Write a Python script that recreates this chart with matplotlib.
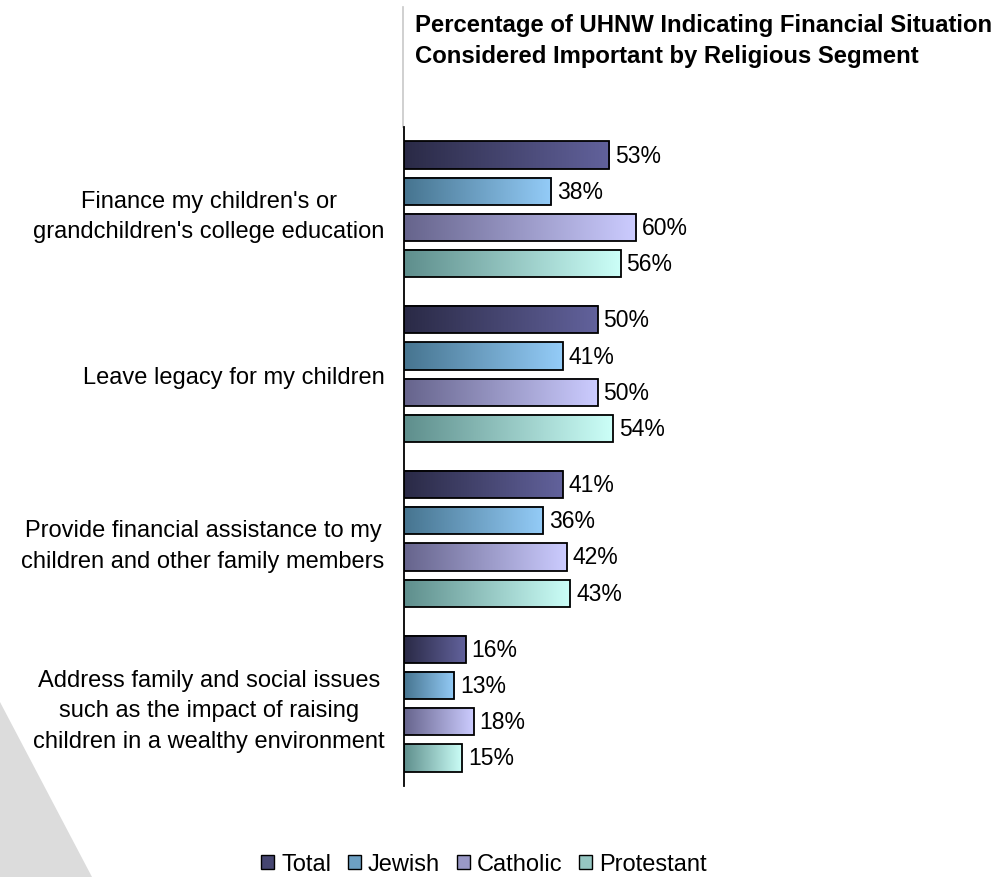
import numpy as np
import matplotlib
matplotlib.use("Agg")
import matplotlib.pyplot as plt
from matplotlib.patches import Polygon, Rectangle
from matplotlib.colors import LinearSegmentedColormap, to_rgb, to_hex

plt.rcParams['font.family'] = ['Liberation Sans', 'DejaVu Sans']

categories = [
    "Finance my children's or\ngrandchildren's college education",
    "Leave legacy for my children",
    "Provide financial assistance to my\nchildren and other family members",
    "Address family and social issues\nsuch as the impact of raising\nchildren in a wealthy environment",
]
series = ["Total", "Jewish", "Catholic", "Protestant"]
total = [53, 50, 41, 16]
jewish = [38, 41, 36, 13]
catholic = [60, 50, 42, 18]
protestant = [56, 54, 43, 15]
values = [total, jewish, catholic, protestant]

# left (dark) and right (light) ends of each bar gradient
grad = {
    "Total": ("#2a2a46", "#62629c"),
    "Jewish": ("#46748f", "#94ccf8"),
    "Catholic": ("#66648c", "#ccccff"),
    "Protestant": ("#5e8e8c", "#ccfff8"),
}

W, H = 1002, 878
fig = plt.figure(figsize=(W / 100, H / 100), dpi=100)

# background wedge in the lower-left corner
bg = fig.add_axes([0, 0, 1, 1])
bg.set_xlim(0, W)
bg.set_ylim(H, 0)
bg.axis("off")
wedge = Polygon([(0, 703), (92, 878), (0, 878)], closed=True,
                facecolor="#dcdcdc", edgecolor="none")
bg.add_patch(wedge)
bg.plot([403, 403], [8, 128], color="#c8c8c8", lw=1.2)

# main bar axes (pixel-based placement)
x0, x1 = 404, 1002
y_top, y_bot = 128, 787
ax = fig.add_axes([x0 / W, 1 - y_bot / H, (x1 - x0) / W, (y_bot - y_top) / H])
px_per_pct = 3.87
ax.patch.set_alpha(0)
for s in ["top", "right", "bottom"]:
    ax.spines[s].set_visible(False)
ax.spines["left"].set_linewidth(1.3)
ax.set_xticks([])
ax.set_yticks(range(len(categories)))
ax.set_yticklabels(categories, fontsize=17, linespacing=1.5)
ax.tick_params(axis="y", length=0, pad=14)
for lbl in ax.get_yticklabels():
    lbl.set_multialignment("center")

pitch = 0.22
bar_h = 0.164
offsets = (np.arange(4) - 1.5) * pitch
grad_img = np.linspace(0, 1, 256).reshape(1, -1)
for si, name in enumerate(series):
    cmap = LinearSegmentedColormap.from_list(name, grad[name])
    for ci, v in enumerate(values[si]):
        yc = ci + offsets[si]
        ax.imshow(grad_img, cmap=cmap, aspect="auto", interpolation="bilinear",
                  extent=(0, v, yc + bar_h / 2, yc - bar_h / 2), zorder=2)
        ax.add_patch(Rectangle((0, yc - bar_h / 2), v, bar_h, facecolor="none",
                               edgecolor="black", lw=1.3, zorder=3))
        ax.text(v + 1.5, yc, f"{v}%", va="center", ha="left", fontsize=16.5,
                zorder=4)
ax.set_xlim(0, (x1 - x0) / px_per_pct)
ax.set_ylim(3.5, -0.5)

fig.text(415 / W, 1 - 14 / H,
         "Percentage of UHNW Indicating Financial Situation\n"
         "Considered Important by Religious Segment",
         ha="left", va="top", fontsize=17.2, fontweight="bold",
         linespacing=1.42)

handles = []
for n in series:
    mid = to_hex(np.mean([to_rgb(c) for c in grad[n]], axis=0))
    handles.append(Rectangle((0, 0), 1, 1, facecolor=mid, edgecolor="black",
                             lw=1.0))
fig.legend(handles, series, loc="center", bbox_to_anchor=(484 / W, 1 - 865 / H),
           ncol=4, frameon=False, fontsize=17, handlelength=0.55,
           handleheight=0.55, handletextpad=0.3, columnspacing=0.7,
           borderpad=0)

fig.savefig("out.png", dpi=100)
